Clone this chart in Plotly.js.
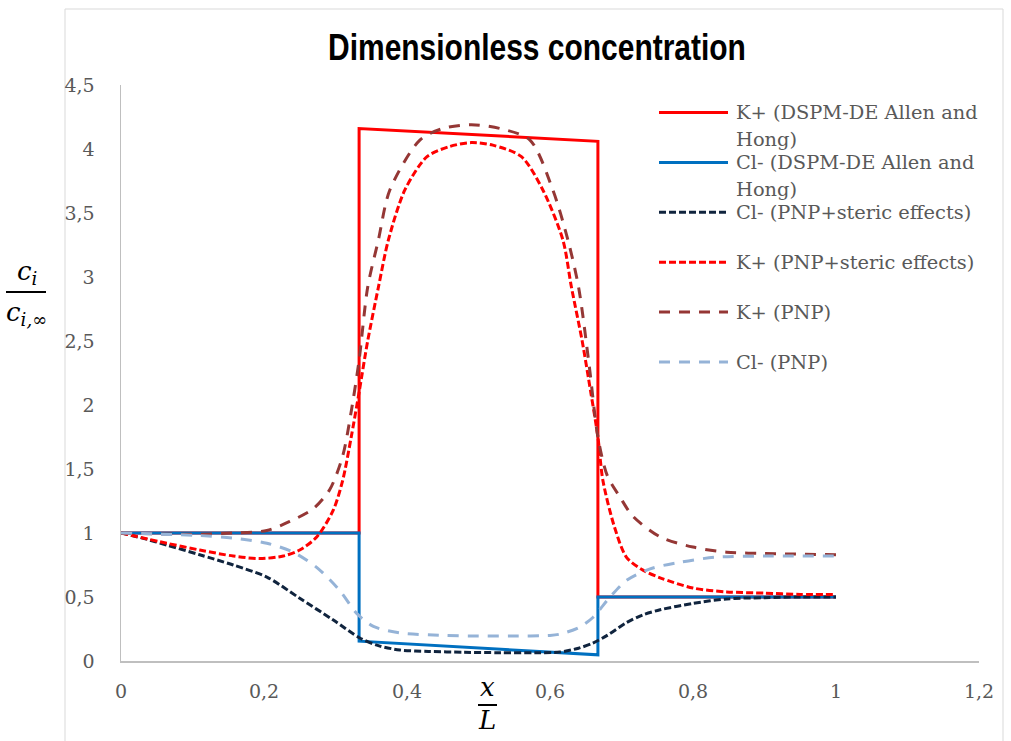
<!DOCTYPE html>
<html>
<head>
<meta charset="utf-8">
<script src="https://cdn.plot.ly/plotly-3.0.1.min.js"></script>
<style>
html,body{margin:0;padding:0;background:#fff;}
#chart{width:1011px;height:741px;}
.gtitle{transform:scaleX(0.81);transform-box:fill-box;transform-origin:center;}
</style>
</head>
<body>
<div id="chart"></div>
<script>
// ---- data ----
const seriesNames = [
  "K+ (DSPM-DE Allen and<br>Hong)",
  "Cl- (DSPM-DE Allen and<br>Hong)",
  "Cl- (PNP+steric effects)",
  "K+ (PNP+steric effects)",
  "K+ (PNP)",
  "Cl- (PNP)"
];

const kDspmX = [0, 0.333, 0.333, 0.667, 0.667, 1];
const kDspmY = [1, 1, 4.16, 4.06, 0.5, 0.5];

const clDspmX = [0, 0.333, 0.333, 0.667, 0.667, 1];
const clDspmY = [1, 1, 0.155, 0.048, 0.5, 0.5];

const clStericX = [0, 0.03, 0.064, 0.11, 0.157, 0.204, 0.25, 0.297, 0.334, 0.36, 0.39, 0.43, 0.48, 0.53, 0.58, 0.614, 0.64, 0.66, 0.68, 0.707, 0.73, 0.754, 0.8, 0.847, 0.9, 0.95, 1];
const clStericY = [1, 0.96, 0.906, 0.83, 0.75, 0.656, 0.49, 0.32, 0.18, 0.12, 0.086, 0.075, 0.068, 0.065, 0.065, 0.07, 0.1, 0.14, 0.2, 0.3, 0.36, 0.40, 0.45, 0.485, 0.495, 0.5, 0.5];

const kStericX = [0, 0.064, 0.11, 0.157, 0.194, 0.227, 0.25, 0.274, 0.297, 0.31, 0.322, 0.333, 0.345, 0.36, 0.374, 0.397, 0.428, 0.46, 0.49, 0.52, 0.56, 0.59, 0.618, 0.63, 0.645, 0.657, 0.667, 0.674, 0.69, 0.707, 0.73, 0.754, 0.8, 0.847, 0.9, 0.95, 1];
const kStericY = [1, 0.92, 0.867, 0.82, 0.80, 0.82, 0.867, 0.97, 1.18, 1.41, 1.75, 2.1, 2.5, 2.92, 3.29, 3.68, 3.94, 4.02, 4.05, 4.03, 3.94, 3.68, 3.29, 2.92, 2.5, 2.1, 1.75, 1.41, 1.05, 0.81, 0.71, 0.65, 0.57, 0.54, 0.53, 0.52, 0.52];

const kPnpX = [0, 0.1, 0.157, 0.204, 0.236, 0.269, 0.292, 0.31, 0.322, 0.333, 0.345, 0.36, 0.376, 0.418, 0.45, 0.49, 0.53, 0.572, 0.604, 0.625, 0.64, 0.655, 0.667, 0.68, 0.698, 0.716, 0.754, 0.8, 0.847, 0.9, 1];
const kPnpY = [1, 0.99, 1.0, 1.02, 1.09, 1.19, 1.34, 1.6, 1.95, 2.35, 2.92, 3.29, 3.68, 4.07, 4.16, 4.19, 4.16, 4.07, 3.68, 3.29, 2.92, 2.3, 1.75, 1.45, 1.28, 1.13, 0.97, 0.89, 0.85, 0.84, 0.83];

const clPnpX = [0, 0.11, 0.157, 0.204, 0.241, 0.274, 0.306, 0.33, 0.353, 0.39, 0.45, 0.5, 0.55, 0.6, 0.614, 0.64, 0.66, 0.684, 0.707, 0.74, 0.78, 0.83, 0.9, 1];
const clPnpY = [1, 0.98, 0.96, 0.92, 0.85, 0.73, 0.55, 0.37, 0.27, 0.22, 0.2, 0.195, 0.195, 0.2, 0.21, 0.26, 0.34, 0.5, 0.63, 0.72, 0.77, 0.81, 0.82, 0.82];

const xTickVals = [0, 0.2, 0.4, 0.6, 0.8, 1, 1.2];
const yTickVals = [0, 0.5, 1, 1.5, 2, 2.5, 3, 3.5, 4, 4.5];

// ---- styles ----
const colors = ["#ff0000", "#0070c0", "#10243e", "#ff0000", "#953735", "#95b3d7"];
const dashes = ["solid", "solid", "7px,3px", "7px,3px", "11px,9px", "11px,9px"];
const shapesLine = ["linear", "linear", "spline", "spline", "spline", "spline"];
const xs = [kDspmX, clDspmX, clStericX, kStericX, kPnpX, clPnpX];
const ys = [kDspmY, clDspmY, clStericY, kStericY, kPnpY, clPnpY];

const L = 121, R = 32, T = 85, B = 80, W = 1011, H = 741;
const pw = W - L - R, ph = H - T - B;
const px = v => (v - L) / pw;
const py = v => (H - B - v) / ph;

const traces = xs.map((x, i) => ({
  x: x, y: ys[i], type: "scatter", mode: "lines",
  name: seriesNames[i], showlegend: false,
  line: {color: colors[i], width: 3, dash: dashes[i], shape: shapesLine[i], smoothing: 0.8},
  hoverinfo: "skip"
}));

const mathFont = {family: "DejaVu Serif", size: 26, color: "#000"};
const shapes = [
  {type: "rect", xref: "paper", yref: "paper", x0: px(65), x1: px(1003), y0: py(760), y1: py(9),
   line: {color: "#d9d9d9", width: 1}, fillcolor: "rgba(0,0,0,0)", layer: "below"},
  {type: "line", xref: "paper", yref: "paper", x0: px(6), x1: px(46), y0: py(292), y1: py(292),
   line: {color: "#000", width: 2}},
  {type: "line", xref: "paper", yref: "paper", x0: px(478), x1: px(497), y0: py(705), y1: py(705),
   line: {color: "#000", width: 2}}
];

const annotations = [
  {xref: "paper", yref: "paper", x: px(27), y: py(272), text: "<i>c</i><sub><i>i</i></sub>", showarrow: false,
   xanchor: "center", yanchor: "middle", font: mathFont},
  {xref: "paper", yref: "paper", x: px(26), y: py(313), text: "<i>c</i><sub><i>i,∞</i></sub>", showarrow: false,
   xanchor: "center", yanchor: "middle", font: mathFont},
  {xref: "paper", yref: "paper", x: px(487), y: py(687), text: "<i>x</i>", showarrow: false,
   xanchor: "center", yanchor: "middle", font: mathFont},
  {xref: "paper", yref: "paper", x: px(487), y: py(720), text: "<i>L</i>", showarrow: false,
   xanchor: "center", yanchor: "middle", font: mathFont}
];

// legend built from names/colors
const legTop = 112.5, legStep = 49.9, legLine = 27;
seriesNames.forEach((n, i) => {
  const yc = legTop + i * legStep;
  shapes.push({type: "line", xref: "paper", yref: "paper", x0: px(659), x1: px(728), y0: py(yc), y1: py(yc),
    line: {color: colors[i], width: 3, dash: dashes[i]}});
  n.split("<br>").forEach((part, k) => {
    annotations.push({xref: "paper", yref: "paper", x: px(734), y: py(yc + k * legLine), text: part, showarrow: false,
      xanchor: "left", yanchor: "middle", align: "left",
      font: {family: "DejaVu Serif", size: 19.4, color: "#595959"}});
  });
});

const tickFont = {family: "DejaVu Serif", size: 19, color: "#595959"};
const layout = {
  width: W, height: H,
  margin: {l: L, r: R, t: T, b: B, pad: 0},
  paper_bgcolor: "#fff", plot_bgcolor: "#fff",
  separators: ", ",
  showlegend: false,
  title: {text: "<b>Dimensionless concentration</b>", x: px(537), xref: "paper", xanchor: "center",
    y: 1 - 47 / H, yanchor: "middle",
    font: {family: "Liberation Sans, Arial, sans-serif", size: 37, color: "#000"}},
  xaxis: {range: [0, 1.2], tickvals: xTickVals, showgrid: false, zeroline: false,
    showline: true, linecolor: "#bfbfbf", linewidth: 1.5, ticks: "", ticklabelstandoff: 13,
    tickfont: tickFont},
  yaxis: {range: [0, 4.5], tickvals: yTickVals, showgrid: false, zeroline: false,
    showline: true, linecolor: "#bfbfbf", linewidth: 1.5, ticks: "", ticklabelstandoff: 21,
    tickfont: tickFont},
  shapes: shapes,
  annotations: annotations
};

Plotly.newPlot("chart", traces, layout, {staticPlot: true, displayModeBar: false});
</script>
</body>
</html>
